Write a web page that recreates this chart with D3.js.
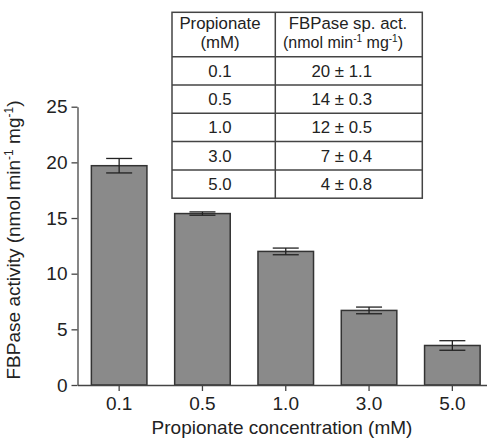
<!DOCTYPE html>
<html><head><meta charset="utf-8">
<script src="https://cdn.jsdelivr.net/npm/d3@7"></script>
<style>body{margin:0;background:#fff}svg{display:block;font-family:Arial,"Liberation Sans",sans-serif}</style>
</head><body>
<script>
const categories = ["0.1", "0.5", "1.0", "3.0", "5.0"];
const activity = [19.7, 15.4, 12.0, 6.7, 3.55];
const errors = [0.65, 0.15, 0.3, 0.3, 0.43];
const yTicks = [0, 5, 10, 15, 20, 25];
const tableConc = ["0.1", "0.5", "1.0", "3.0", "5.0"];
const tableAct = ["20 ± 1.1", "14 ± 0.3", "12 ± 0.5", "7 ± 0.4", "4 ± 0.8"];

const W = 487, H = 440;
const svg = d3.select("body").append("svg").attr("width", W).attr("height", H);

const x = d3.scaleBand().domain(categories).range([77.5, 494]).paddingInner(0.333).paddingOuter(0.1665);
const y = d3.scaleLinear().domain([0, 25]).range([385, 106.7]);
const axisColor = "#444", textColor = "#222";

// bars
svg.append("g").selectAll("rect").data(categories).join("rect")
  .attr("x", d => x(d)).attr("width", x.bandwidth())
  .attr("y", (d, i) => y(activity[i])).attr("height", (d, i) => y(0) - y(activity[i]))
  .attr("fill", "#8a8a8a").attr("stroke", "#333").attr("stroke-width", 1.5);

// error bars
const eg = svg.append("g").attr("stroke", "#222").attr("stroke-width", 1.3);
categories.forEach((c, i) => {
  const cx = x(c) + x.bandwidth() / 2, hw = 13;
  const top = y(activity[i] + errors[i]), bot = y(activity[i] - errors[i]);
  eg.append("line").attr("x1", cx).attr("x2", cx).attr("y1", top).attr("y2", bot);
  eg.append("line").attr("x1", cx - hw).attr("x2", cx + hw).attr("y1", top).attr("y2", top);
  eg.append("line").attr("x1", cx - hw).attr("x2", cx + hw).attr("y1", bot).attr("y2", bot);
});

// axes
const yAxis = svg.append("g").attr("transform", "translate(77.5,0)")
  .call(d3.axisLeft(y).tickValues(yTicks).tickSize(6).tickSizeOuter(0).tickPadding(4));
const xAxis = svg.append("g").attr("transform", "translate(0,385)")
  .call(d3.axisBottom(x).tickSize(6).tickSizeOuter(0).tickPadding(6));
[yAxis, xAxis].forEach(a => {
  a.selectAll("path,line").attr("stroke", axisColor).attr("stroke-width", 1.3);
  a.selectAll("text").attr("fill", textColor).style("font-size", "19px").style("font-family", "Arial, 'Liberation Sans', sans-serif");
});

// axis titles
svg.append("text").attr("x", 282).attr("y", 434).attr("text-anchor", "middle")
  .attr("fill", textColor).style("font-size", "19px").text("Propionate concentration (mM)");

const yt = svg.append("text").attr("transform", "translate(20,240) rotate(-90)")
  .attr("text-anchor", "middle").attr("fill", textColor).style("font-size", "19px");
yt.append("tspan").text("FBPase activity (nmol min");
yt.append("tspan").attr("dy", -7).style("font-size", "12px").text("-1");
yt.append("tspan").attr("dy", 7).text(" mg");
yt.append("tspan").attr("dy", -7).style("font-size", "12px").text("-1");
yt.append("tspan").attr("dy", 7).text(")");

// table
const tL = 172, tR = 422.3, tD = 275.3, tT = 12.3, hH = 44.4, rH = 28.3;
const tg = svg.append("g");
const nRows = tableConc.length;
const tB = tT + hH + nRows * rH;
tg.append("rect").attr("x", tL).attr("y", tT).attr("width", tR - tL).attr("height", tB - tT)
  .attr("fill", "#fff").attr("stroke", "#444").attr("stroke-width", 1.5);
tg.append("line").attr("x1", tD).attr("x2", tD).attr("y1", tT).attr("y2", tB).attr("stroke", "#444").attr("stroke-width", 1.5);
for (let i = 0; i < nRows; i++) {
  const ly = tT + hH + i * rH;
  tg.append("line").attr("x1", tL).attr("x2", tR).attr("y1", ly).attr("y2", ly).attr("stroke", "#444").attr("stroke-width", 1.5);
}
const fs = "16.8px";
tg.append("text").attr("x", 220).attr("y", 29).attr("text-anchor", "middle").attr("fill", textColor).style("font-size", fs).text("Propionate");
tg.append("text").attr("x", 220).attr("y", 48).attr("text-anchor", "middle").attr("fill", textColor).style("font-size", fs).text("(mM)");
tg.append("text").attr("x", 348).attr("y", 29).attr("text-anchor", "middle").attr("fill", textColor).style("font-size", fs).text("FBPase sp. act.");
const h2 = tg.append("text").attr("x", 343).attr("y", 48).attr("text-anchor", "middle").attr("fill", textColor).style("font-size", "16px");
h2.append("tspan").text("(nmol min");
h2.append("tspan").attr("dy", -6).style("font-size", "10px").text("-1");
h2.append("tspan").attr("dy", 6).text(" mg");
h2.append("tspan").attr("dy", -6).style("font-size", "10px").text("-1");
h2.append("tspan").attr("dy", 6).text(")");
tableConc.forEach((c, i) => {
  const cy = tT + hH + i * rH + rH / 2 + 6;
  tg.append("text").attr("x", 220).attr("y", cy).attr("text-anchor", "middle").attr("fill", textColor).style("font-size", fs).text(c);
  tg.append("text").attr("x", 372).attr("y", cy).attr("text-anchor", "end").attr("fill", textColor).style("font-size", fs).text(tableAct[i]);
});
</script>
</body></html>
